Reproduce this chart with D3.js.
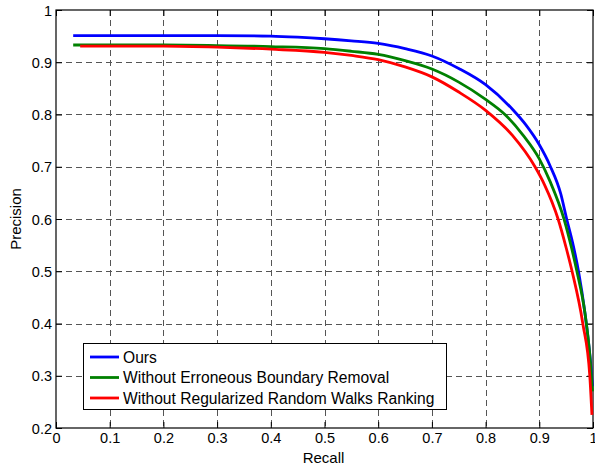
<!DOCTYPE html>
<html>
<head>
<meta charset="utf-8">
<script src="https://cdn.jsdelivr.net/npm/d3@7"></script>
<style>
body { margin:0; background:#fff; }
svg { display:block; font-family:"Liberation Sans", Arial, sans-serif; }
.tickText { font-size:14.5px; fill:#000; }
.gridLine { stroke:#555; stroke-width:1; stroke-dasharray:6,4; shape-rendering:crispEdges; }
</style>
</head>
<body>
<svg id="chart" width="595" height="463"></svg>
<script>
/* data: [recall, precision] */
var oursPts = [[0.032,0.951],[0.1,0.951],[0.2,0.951],[0.3,0.951],[0.4,0.950],[0.45,0.948],[0.5,0.945],[0.55,0.941],[0.6,0.936],[0.65,0.926],[0.7,0.912],[0.75,0.888],[0.8,0.857],[0.85,0.81],[0.875,0.78],[0.9,0.742],[0.92,0.702],[0.94,0.648],[0.951,0.600],[0.962,0.555],[0.973,0.5],[0.985,0.42],[0.991,0.37],[0.996,0.32],[0.999,0.28]]
var noBoundaryPts = [[0.032,0.933],[0.1,0.933],[0.2,0.933],[0.3,0.932],[0.4,0.930],[0.5,0.926],[0.55,0.921],[0.6,0.915],[0.65,0.903],[0.7,0.887],[0.75,0.862],[0.8,0.829],[0.836,0.8],[0.87,0.76],[0.9,0.715],[0.92,0.672],[0.946,0.6],[0.96,0.545],[0.97,0.5],[0.985,0.42],[0.994,0.34],[0.999,0.27]]
var noRankingPts = [[0.045,0.931],[0.1,0.931],[0.2,0.931],[0.3,0.929],[0.4,0.925],[0.5,0.919],[0.55,0.913],[0.6,0.905],[0.65,0.891],[0.7,0.872],[0.75,0.843],[0.8,0.808],[0.85,0.76],[0.892,0.7],[0.91,0.665],[0.935,0.6],[0.95,0.545],[0.961,0.5],[0.981,0.4],[0.994,0.3],[0.998,0.225]]
var seriesNames = ["Ours","Without Erroneous Boundary Removal","Without Regularized Random Walks Ranking"]
var seriesColors = ["#0000ff","#008000","#ff0000"]
var xTicks = [0,0.1,0.2,0.3,0.4,0.5,0.6,0.7,0.8,0.9,1]
var yTicks = [0.2,0.3,0.4,0.5,0.6,0.7,0.8,0.9,1]

var svg = d3.select("#chart")
var plotL = 56, plotR = 593, plotT = 10, plotB = 428

var xScale = d3.scaleLinear().domain([0,1]).range([plotL,plotR])
var yScale = d3.scaleLinear().domain([0.2,1]).range([plotB,plotT])

/* grid */
var gridX = xTicks.filter(function(d) { return d > 0 && d < 1 })
var gridY = yTicks.filter(function(d) { return d > 0.2 && d < 1 })
svg.selectAll(".gridV").data(gridX).enter().append("line")
  .attr("class","gridLine")
  .attr("x1",function(d) { return Math.round(xScale(d)) + 0.5 })
  .attr("x2",function(d) { return Math.round(xScale(d)) + 0.5 })
  .attr("y1",plotT).attr("y2",plotB)
svg.selectAll(".gridH").data(gridY).enter().append("line")
  .attr("class","gridLine")
  .attr("x1",plotL).attr("x2",plotR)
  .attr("y1",function(d) { return Math.round(yScale(d)) + 0.5 })
  .attr("y2",function(d) { return Math.round(yScale(d)) + 0.5 })

/* axes, ticks inside on all four sides */
var tickLen = 6
function fmt(d) { return d3.format("")(+d.toFixed(1)) }
var gx = svg.append("g").attr("transform","translate(0," + plotB + ")")
  .call(d3.axisBottom(xScale).tickValues(xTicks).tickSizeInner(-tickLen).tickSizeOuter(0).tickPadding(10).tickFormat(fmt))
var gy = svg.append("g").attr("transform","translate(" + plotL + ",0)")
  .call(d3.axisLeft(yScale).tickValues(yTicks).tickSizeInner(-tickLen).tickSizeOuter(0).tickPadding(10).tickFormat(fmt))
var gxTop = svg.append("g").attr("transform","translate(0," + plotT + ")")
  .call(d3.axisTop(xScale).tickValues(xTicks).tickSizeInner(-tickLen).tickSizeOuter(0).tickFormat(""))
var gyR = svg.append("g").attr("transform","translate(" + plotR + ",0)")
  .call(d3.axisRight(yScale).tickValues(yTicks).tickSizeInner(-tickLen).tickSizeOuter(0).tickFormat(""))
;[gx,gy,gxTop,gyR].forEach(function(g) {
  g.select(".domain").remove()
  g.selectAll(".tick line").attr("stroke","#000")
  g.selectAll(".tick text").attr("class","tickText").attr("font-family",null).attr("font-size",null)
})
gy.selectAll(".tick text").attr("dx","6").attr("dy","0.35em")
gx.selectAll(".tick text").attr("dy","0.71em").attr("y",5)

svg.append("rect")
  .attr("x",plotL).attr("y",plotT)
  .attr("width",plotR - plotL).attr("height",plotB - plotT)
  .attr("fill","none").attr("stroke","#000").attr("stroke-width",1.2)

/* curves */
var prLine = d3.line()
  .x(function(d) { return xScale(d[0]) })
  .y(function(d) { return yScale(d[1]) })
  .curve(d3.curveMonotoneX)
var allSeries = [oursPts, noBoundaryPts, noRankingPts]
svg.selectAll(".prCurve").data(allSeries).enter().append("path")
  .attr("class","prCurve")
  .attr("d",prLine)
  .attr("fill","none")
  .attr("stroke",function(d,i) { return seriesColors[i] })
  .attr("stroke-width",2.8)
  .attr("stroke-linejoin","round")

/* axis titles */
svg.append("text").text("Recall")
  .attr("x",(plotL + plotR) / 2 - 1).attr("y",463)
  .attr("text-anchor","middle").attr("font-size","15px")
svg.append("text").text("Precision")
  .attr("transform","translate(21," + (plotT + plotB) / 2 + ") rotate(-90)")
  .attr("text-anchor","middle").attr("font-size","15px")

/* legend */
var legend = svg.append("g")
legend.append("rect")
  .attr("x",83.5).attr("y",343.5).attr("width",363).attr("height",66)
  .attr("fill","#fff").attr("stroke","#000").attr("stroke-width",1)
var legRow = legend.selectAll(".legRow").data(seriesNames).enter().append("g")
  .attr("transform",function(d,i) { return "translate(0," + (357 + i * 20.5) + ")" })
legRow.append("line")
  .attr("x1",90).attr("x2",119).attr("y1",0).attr("y2",0)
  .attr("stroke",function(d,i) { return seriesColors[i] }).attr("stroke-width",2.8)
legRow.append("text").text(function(d) { return d })
  .attr("x",123).attr("y",0).attr("dy","0.36em").attr("font-size","15.6px")
</script>
</body>
</html>
